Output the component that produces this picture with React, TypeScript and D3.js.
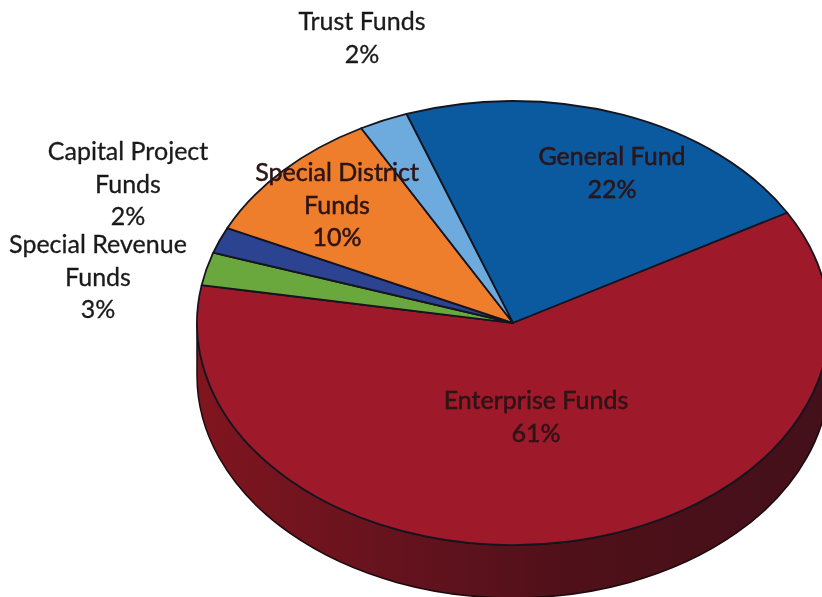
import React from "react";
import * as d3 from "d3";

const categories = ["General Fund", "Enterprise Funds", "Special Revenue Funds", "Capital Project Funds", "Special District Funds", "Trust Funds"];
const sliceValues = [22.2, 61, 2.4, 1.9, 10, 2.5];
const sliceColors = ["#0b5a9f", "#9e1a2a", "#6aa83e", "#2c4391", "#ee7d2c", "#6dabdf"];

const outsideLabels = [
  { lines: ["Trust Funds", "2%"], x: 362, y: 30 },
  { lines: ["Capital Project", "Funds", "2%"], x: 128, y: 160 },
  { lines: ["Special Revenue", "Funds", "3%"], x: 98, y: 253 },
];
const insideLabels = [
  { lines: ["General Fund", "22%"], x: 612, y: 165 },
  { lines: ["Special District", "Funds", "10%"], x: 337, y: 181 },
  { lines: ["Enterprise Funds", "61%"], x: 536, y: 409 },
];

const W = 822, H = 597;
const cx = 513, cy = 323, rx = 316, ry = 222, depth = 53;
const startDeg = -19.7;
const font = "Lato, 'Open Sans', sans-serif";

export default function App() {
  const pie = d3.pie<number>().sort(null)
    .startAngle((startDeg * Math.PI) / 180)
    .endAngle(((startDeg + 360) * Math.PI) / 180);
  const arcs = pie(sliceValues);
  const arc = d3.arc<d3.PieArcDatum<number>>().innerRadius(0).outerRadius(rx);

  // side wall: lower half of the ellipse swept downwards by depth
  const sidePath = `M${cx - rx},${cy} A${rx},${ry} 0 0 0 ${cx + rx},${cy} L${cx + rx},${cy + depth} A${rx},${ry} 0 0 1 ${cx - rx},${cy + depth} Z`;

  const renderLabel = (l: { lines: string[]; x: number; y: number }, fill: string, strokeW: number) => (
    <text key={l.lines[0]} x={l.x} textAnchor="middle" fontFamily={font} fontSize={25} fill={fill} stroke={fill} strokeWidth={strokeW} filter="url(#soft)">
      {l.lines.map((t, i) => (
        <tspan key={i} x={l.x} y={l.y + i * 32.5}>{t}</tspan>
      ))}
    </text>
  );

  return (
    <svg width={W} height={H} viewBox={`0 0 ${W} ${H}`} style={{ position: "absolute", left: 0, top: 0, background: "#fff" }}>
      <defs>
        <linearGradient id="side" x1="0" x2="1" y1="0" y2="0">
          <stop offset="0" stopColor="#80151f" />
          <stop offset="0.3" stopColor="#66131e" />
          <stop offset="0.6" stopColor="#4f1019" />
          <stop offset="1" stopColor="#43101a" />
        </linearGradient>
        <filter id="soft" x="-5%" y="-5%" width="110%" height="110%">
          <feGaussianBlur stdDeviation="0.4" />
        </filter>
      </defs>
      <path d={sidePath} fill="url(#side)" stroke="#1c0a0c" strokeWidth={1.5} />
      <g transform={`translate(${cx},${cy}) scale(1,${ry / rx})`}>
        {arcs.map((a, i) => (
          <path key={categories[i]} d={arc(a) as string} fill={sliceColors[i]} stroke="#15151f" strokeWidth={1.8} vectorEffect="non-scaling-stroke" strokeLinejoin="round" />
        ))}
      </g>
      {outsideLabels.map((l) => renderLabel(l, "#1a1a1a", 0.3))}
      {insideLabels.map((l) => renderLabel(l, "#2c1416", 0.5))}
    </svg>
  );
}
